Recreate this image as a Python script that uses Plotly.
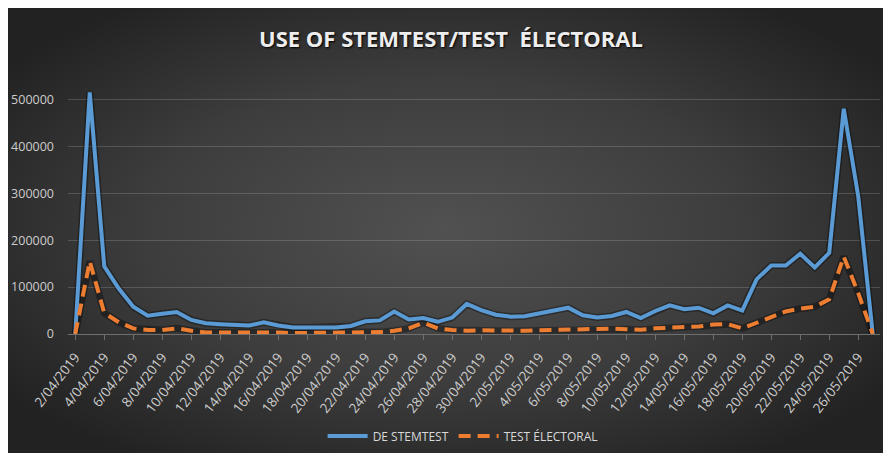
import base64
import pandas as pd
import plotly.graph_objects as go

# ---- data ----
start_date = "2019-04-02"
n_days = 56
dates = pd.date_range(start_date, periods=n_days, freq="D")

de_stemtest = [
    0, 515000, 144000, 97000, 58000, 39000, 43000, 47000, 30000, 23000,
    21000, 19000, 18000, 25000, 18000, 14000, 14000, 14000, 14000, 17000,
    27000, 29000, 48000, 31000, 34000, 26000, 35000, 64000, 51000, 41000,
    37000, 38000, 44000, 51000, 56000, 40000, 35000, 38500, 47000, 34000,
    49000, 61000, 53000, 56000, 44000, 61000, 50000, 117000, 146000, 146000,
    171000, 142000, 173000, 480000, 293000, 0,
]
test_electoral = [
    0, 155000, 45000, 25000, 12000, 8500, 8500, 12000, 7000, 3000,
    3000, 3000, 3000, 5000, 3000, 2000, 2000, 2000, 2000, 3000,
    3500, 4000, 7000, 12000, 24000, 12000, 8500, 7000, 8000, 7000,
    6500, 7000, 8000, 9000, 10000, 10000, 11500, 11500, 10000, 9000,
    12000, 14500, 15000, 16000, 20000, 21000, 12000, 24000, 37000, 48000,
    54000, 58000, 74000, 165000, 87000, 0,
]
series_names = ["DE STEMTEST", "TEST ÉLECTORAL"]
title_text = "USE OF STEMTEST/TEST  ÉLECTORAL"
y_ticks = [0, 100000, 200000, 300000, 400000, 500000]

# ---- layout geometry (page has an 8px body margin) ----
W, H = 883, 448
ML, MR, MT, MB = 60, 11, 82, 122
PW, PH = W - ML - MR, H - MT - MB

# background panel (radial gradient) as an svg image
bx0, by0, bx1, by1 = -2, -1, 876, 445
svg = f"""<svg xmlns='http://www.w3.org/2000/svg' width='{bx1-bx0}' height='{by1-by0}' viewBox='0 0 {bx1-bx0} {by1-by0}' preserveAspectRatio='none'>
<defs><radialGradient id='g' cx='50%' cy='50%' r='62%'>
<stop offset='0%' stop-color='#515151'/>
<stop offset='55%' stop-color='#3d3d3d'/>
<stop offset='100%' stop-color='#222222'/>
</radialGradient></defs>
<rect x='0' y='0' width='100%' height='100%' fill='url(#g)'/>
</svg>"""
svg_uri = "data:image/svg+xml;base64," + base64.b64encode(svg.encode()).decode()

fig = go.Figure()

colors = ["#5B9BD5", "#ED7D31"]
values = [de_stemtest, test_electoral]
dashes = ["solid", "12px,7px"]

# shadows
for v in values:
    fig.add_trace(go.Scatter(
        x=dates, y=v, mode="lines", showlegend=False, hoverinfo="skip",
        line=dict(color="rgba(0,0,0,0.35)", width=7, dash="solid"),
    ))
for name, v, c, d in zip(series_names, values, colors, dashes):
    fig.add_trace(go.Scatter(
        x=dates, y=v, mode="lines", name=name,
        line=dict(color=c, width=4, dash=d),
    ))

fig.update_layout(
    width=W, height=H,
    margin=dict(l=ML, r=MR, t=MT, b=MB, autoexpand=False),
    paper_bgcolor="white",
    plot_bgcolor="rgba(0,0,0,0)",
    title=dict(
        text=title_text, x=443 / W, xref="container", xanchor="center",
        y=1 - 31 / H, yref="container", yanchor="middle",
        font=dict(family="Open Sans", size=22, color="#eeeeee", weight="bold",
                  shadow="1px 1px 2px #000"),
    ),
    images=[dict(
        source=svg_uri, xref="paper", yref="paper",
        x=(bx0 - ML) / PW, y=(MT + PH - by0) / PH,
        sizex=(bx1 - bx0) / PW, sizey=(by1 - by0) / PH,
        xanchor="left", yanchor="top", sizing="stretch", layer="below",
    )],
    legend=dict(
        orientation="h", x=0.486, xanchor="center", y=-(428 - (MT + PH)) / PH,
        yanchor="middle", font=dict(family="Open Sans", size=12, color="#d9d9d9"),
        bgcolor="rgba(0,0,0,0)", traceorder="normal", itemwidth=40,
    ),
    showlegend=True,
)

fig.update_xaxes(
    type="date", automargin=False,
    range=[dates[0] - pd.Timedelta(hours=12), dates[-1] + pd.Timedelta(hours=12)],
    tick0=dates[0], dtick=2 * 86400000, tickformat="%-d/%m/%Y",
    tickangle=-52, tickfont=dict(family="Open Sans", size=13.5, color="#cccccc"),
    ticklabelstandoff=4,
    showgrid=False, showline=True, linecolor="#6e6e6e", linewidth=1,
    ticks="outside", ticklen=5, tickcolor="#6e6e6e", zeroline=False,
)
fig.update_yaxes(
    range=[0, 520000], tickvals=y_ticks, ticktext=[str(t) for t in y_ticks],
    automargin=False,
    tickfont=dict(family="Open Sans", size=12.5, color="#cccccc"),
    showgrid=True, gridcolor="rgba(200,200,200,0.22)", gridwidth=1,
    zeroline=False, showline=False, ticks="", ticklabelstandoff=13,
)

fig.write_html("out.html")
